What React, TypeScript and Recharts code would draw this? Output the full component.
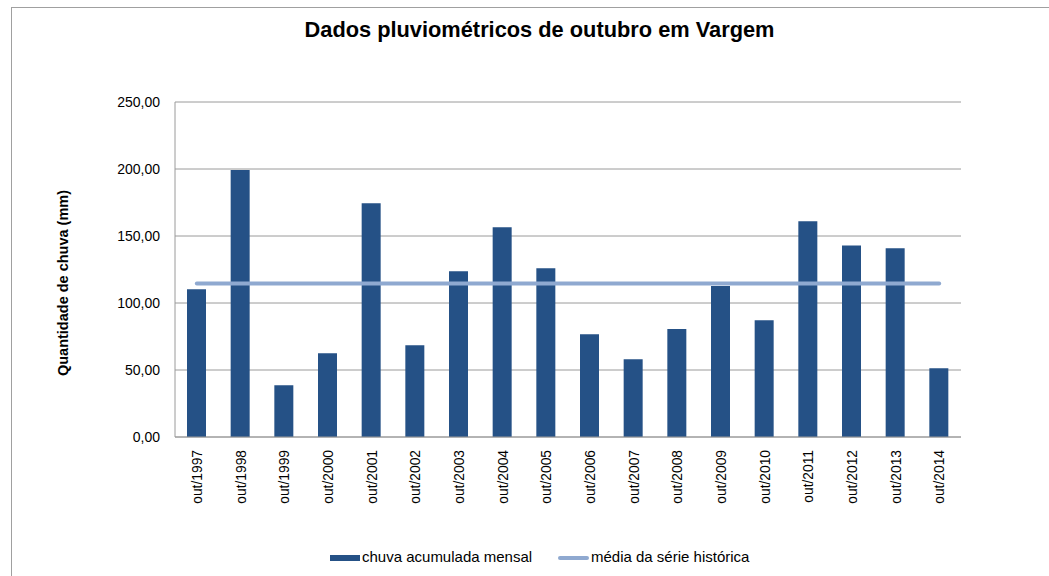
import React from 'react';
import { ComposedChart, Bar, Line, XAxis, YAxis, CartesianGrid } from 'recharts';

const categories = ['out/1997','out/1998','out/1999','out/2000','out/2001','out/2002','out/2003','out/2004','out/2005','out/2006','out/2007','out/2008','out/2009','out/2010','out/2011','out/2012','out/2013','out/2014'];
const chuvaMensal = [110.2, 199.3, 38.6, 62.5, 174.4, 68.4, 123.7, 156.5, 125.9, 76.6, 58.0, 80.6, 112.7, 87.1, 161.0, 143.0, 140.8, 51.3];
const mediaHistorica = [114.5, 114.5, 114.5, 114.5, 114.5, 114.5, 114.5, 114.5, 114.5, 114.5, 114.5, 114.5, 114.5, 114.5, 114.5, 114.5, 114.5, 114.5];
const yTicks = [0, 50, 100, 150, 200, 250];

const data = categories.map((c, i) => ({ cat: c, chuva: chuvaMensal[i], media: mediaHistorica[i] }));

const FONT = '"Liberation Sans", Arial, sans-serif';
const BAR = '#255186';
const LINE = '#8fa9d0';

const fmt = (v: number) => v.toFixed(2).replace('.', ',');

const XTick = (props: any) => {
  const { x, y, payload } = props;
  return (
    <text x={x + 5} y={y + 5} transform={`rotate(-90 ${x + 5} ${y + 5})`} textAnchor="end" fontSize={13.8} fill="#000" fontFamily={FONT}>
      {payload.value}
    </text>
  );
};

const YLabel = () => {
  const cx = 68;
  const cy = 283;
  return (
    <text x={cx} y={cy} transform={`rotate(-90 ${cx} ${cy})`} textAnchor="middle" fontSize={14.5} fontWeight="bold" fill="#000" fontFamily={FONT}>
      Quantidade de chuva (mm)
    </text>
  );
};

export default function App() {
  return (
    <div style={{ position: 'absolute', left: 0, top: 0, width: 1049, height: 576, background: '#fff', overflow: 'hidden' }}>
      <div style={{ position: 'absolute', left: 11, top: 7, width: 1100, height: 700, borderLeft: '1.5px solid #a0a0a0', borderTop: '1.5px solid #a0a0a0' }} />
      <div style={{ position: 'absolute', left: 0, top: 17, width: 1079, textAlign: 'center', fontFamily: FONT, fontWeight: 'bold', fontSize: 21.8, color: '#000' }}>
        Dados pluviométricos de outubro em Vargem
      </div>
      <div style={{ position: 'absolute', left: 0, top: 0 }}>
        <ComposedChart width={1049} height={576} data={data} margin={{ top: 102, right: 88, bottom: 69, left: 115 }} barSize={19}>
          <CartesianGrid vertical={false} stroke="#9a9a9a" strokeWidth={1} />
          <XAxis dataKey="cat" tick={<XTick />} tickLine={false} axisLine={{ stroke: '#9a9a9a' }} height={70} interval={0} />
          <YAxis domain={[0, 250]} ticks={yTicks} tickFormatter={fmt} width={60} tickLine={false} tickSize={6} tickMargin={9}
            axisLine={{ stroke: '#9a9a9a' }} tick={{ fontSize: 14, fill: '#000', fontFamily: FONT }} label={<YLabel />} />
          <Bar dataKey="chuva" fill={BAR} isAnimationActive={false} />
          <Line dataKey="media" stroke={LINE} strokeWidth={4} dot={false} activeDot={false} isAnimationActive={false} strokeLinecap="round" />
        </ComposedChart>
      </div>
      <div style={{ position: 'absolute', left: 0, top: 548, width: 1049, height: 20, fontFamily: FONT, fontSize: 15, color: '#000' }}>
        <div style={{ position: 'absolute', left: 330, top: 7, width: 30, height: 6, background: BAR }} />
        <div style={{ position: 'absolute', left: 362, top: 0, whiteSpace: 'nowrap' }}>chuva acumulada mensal</div>
        <div style={{ position: 'absolute', left: 558, top: 8, width: 31, height: 4, background: LINE, borderRadius: 2 }} />
        <div style={{ position: 'absolute', left: 591, top: 0, whiteSpace: 'nowrap' }}>média da série histórica</div>
      </div>
    </div>
  );
}
